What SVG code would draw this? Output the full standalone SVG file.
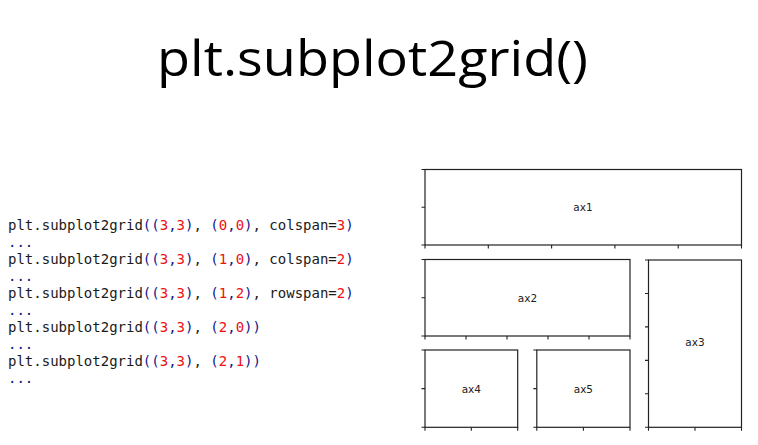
<svg xmlns="http://www.w3.org/2000/svg" width="758" height="445" viewBox="0 0 758 445">
<style>
.title{font-family:"Open Sans","Noto Sans",sans-serif;font-size:50px;fill:#000}
.code{font-family:"DejaVu Sans Mono","Liberation Mono",monospace;font-size:14px;fill:#1a1a1a}
.b{fill:#14148c}
.r{fill:#f01010}
.ax{fill:#fff;stroke:#222;stroke-width:1.2}
.tk{stroke:#222;stroke-width:1.1;fill:none}
.lbl{font-family:"DejaVu Sans",sans-serif;font-size:10.5px;fill:#222;text-anchor:middle;dominant-baseline:central}
</style>
<rect width="758" height="445" fill="#fff"/>
<text class="title" x="157" y="76" textLength="431" lengthAdjust="spacingAndGlyphs">plt.subplot2grid()</text>
<g id="code">
<text class="code" x="8" y="230">plt.subplot2grid<tspan class="b">((</tspan><tspan class="r">3</tspan><tspan class="b">,</tspan><tspan class="r">3</tspan><tspan class="b">)</tspan>, <tspan class="b">(</tspan><tspan class="r">0</tspan><tspan class="b">,</tspan><tspan class="r">0</tspan><tspan class="b">)</tspan>, colspan=<tspan class="r">3</tspan><tspan class="b">)</tspan></text>
<text class="code b" x="8" y="247">...</text>
<text class="code" x="8" y="264">plt.subplot2grid<tspan class="b">((</tspan><tspan class="r">3</tspan><tspan class="b">,</tspan><tspan class="r">3</tspan><tspan class="b">)</tspan>, <tspan class="b">(</tspan><tspan class="r">1</tspan><tspan class="b">,</tspan><tspan class="r">0</tspan><tspan class="b">)</tspan>, colspan=<tspan class="r">2</tspan><tspan class="b">)</tspan></text>
<text class="code b" x="8" y="281">...</text>
<text class="code" x="8" y="298">plt.subplot2grid<tspan class="b">((</tspan><tspan class="r">3</tspan><tspan class="b">,</tspan><tspan class="r">3</tspan><tspan class="b">)</tspan>, <tspan class="b">(</tspan><tspan class="r">1</tspan><tspan class="b">,</tspan><tspan class="r">2</tspan><tspan class="b">)</tspan>, rowspan=<tspan class="r">2</tspan><tspan class="b">)</tspan></text>
<text class="code b" x="8" y="315">...</text>
<text class="code" x="8" y="332">plt.subplot2grid<tspan class="b">((</tspan><tspan class="r">3</tspan><tspan class="b">,</tspan><tspan class="r">3</tspan><tspan class="b">)</tspan>, <tspan class="b">(</tspan><tspan class="r">2</tspan><tspan class="b">,</tspan><tspan class="r">0</tspan><tspan class="b">))</tspan></text>
<text class="code b" x="8" y="349">...</text>
<text class="code" x="8" y="366">plt.subplot2grid<tspan class="b">((</tspan><tspan class="r">3</tspan><tspan class="b">,</tspan><tspan class="r">3</tspan><tspan class="b">)</tspan>, <tspan class="b">(</tspan><tspan class="r">2</tspan><tspan class="b">,</tspan><tspan class="r">1</tspan><tspan class="b">))</tspan></text>
<text class="code b" x="8" y="383">...</text>
</g>
<g id="ax1">
<rect class="ax" x="425" y="169.5" width="316.5" height="75.5"/>
<path class="tk" d="M425,245v3.5M488.3,245v3.5M551.6,245v3.5M614.9,245v3.5M678.2,245v3.5M741.5,245v3.5M425,169.5h-3.5M425,207.2h-3.5M425,245h-3.5"/>
<text class="lbl" x="583" y="207">ax1</text>
</g>
<g id="ax2">
<rect class="ax" x="425" y="259.5" width="205" height="76.5"/>
<path class="tk" d="M425,336v3.5M466,336v3.5M507,336v3.5M548,336v3.5M589,336v3.5M630,336v3.5M425,259.5h-3.5M425,297.7h-3.5M425,336h-3.5"/>
<text class="lbl" x="527.5" y="297.5">ax2</text>
</g>
<g id="ax3">
<rect class="ax" x="648.5" y="260" width="93" height="167.3"/>
<path class="tk" d="M648.5,427.3v3.5M695,427.3v3.5M741.5,427.3v3.5M648.5,260h-3.5M648.5,293.5h-3.5M648.5,326.9h-3.5M648.5,360.4h-3.5M648.5,393.8h-3.5M648.5,427.3h-3.5"/>
<text class="lbl" x="695" y="342">ax3</text>
</g>
<g id="ax4">
<rect class="ax" x="425" y="350" width="92.7" height="77.3"/>
<path class="tk" d="M425,427.3v3.5M471.3,427.3v3.5M517.7,427.3v3.5M425,350h-3.5M425,388.6h-3.5M425,427.3h-3.5"/>
<text class="lbl" x="471.3" y="388.5">ax4</text>
</g>
<g id="ax5">
<rect class="ax" x="536.8" y="350" width="93.2" height="77.3"/>
<path class="tk" d="M536.8,427.3v3.5M583.4,427.3v3.5M630,427.3v3.5M536.8,350h-3.5M536.8,388.6h-3.5M536.8,427.3h-3.5"/>
<text class="lbl" x="583.4" y="388.5">ax5</text>
</g>
<g id="connectors"></g>
</svg>
